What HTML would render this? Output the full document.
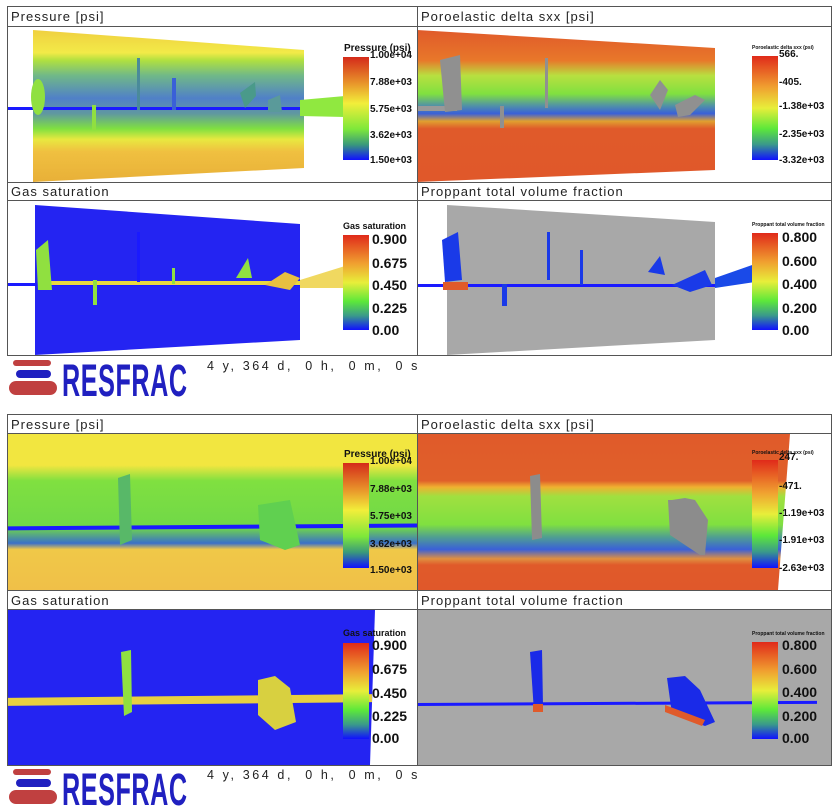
<!DOCTYPE html>
<html><head><meta charset="utf-8"><style>
html,body{margin:0;padding:0;background:#fff;width:834px;height:809px;overflow:hidden}
svg text{font-family:"Liberation Sans",sans-serif}
.t{font-size:13px;letter-spacing:1px;fill:#222}
.cb{font-size:10px;font-weight:bold;fill:#111}
.cbs{font-size:5px;font-weight:bold;fill:#111}
.cbl{font-size:14px;font-weight:bold;fill:#111}
.ts{font-size:12.5px;letter-spacing:2.6px;fill:#222;white-space:pre}
</style></head><body>
<svg width="834" height="809" viewBox="0 0 834 809" xmlns="http://www.w3.org/2000/svg">
<defs>
<linearGradient id="gp" x1="0" y1="0" x2="0" y2="1">
<stop offset="0" stop-color="#d42a1a"/><stop offset="0.25" stop-color="#e8922a"/><stop offset="0.45" stop-color="#f2ee3a"/><stop offset="0.7" stop-color="#7ee83a"/><stop offset="0.85" stop-color="#3a9a7a"/><stop offset="1" stop-color="#1010ff"/></linearGradient>
<linearGradient id="gs" x1="0" y1="0" x2="0" y2="1">
<stop offset="0" stop-color="#e02a1a"/><stop offset="0.3" stop-color="#f0a030"/><stop offset="0.5" stop-color="#e8ee3a"/><stop offset="0.7" stop-color="#5ce83a"/><stop offset="0.85" stop-color="#3a9a8a"/><stop offset="1" stop-color="#1010ff"/></linearGradient>
<linearGradient id="pa" x1="0" y1="0" x2="0" y2="1">
<stop offset="0" stop-color="#f0d040"/><stop offset="0.15" stop-color="#f2ea48"/><stop offset="0.2" stop-color="#b0e040"/><stop offset="0.3" stop-color="#70b888"/><stop offset="0.45" stop-color="#5080c8"/><stop offset="0.55" stop-color="#6098a0"/><stop offset="0.65" stop-color="#80e040"/><stop offset="0.72" stop-color="#e8e840"/><stop offset="0.8" stop-color="#f0c040"/><stop offset="1" stop-color="#e8b038"/></linearGradient>
<linearGradient id="po" x1="0" y1="0" x2="0" y2="1">
<stop offset="0" stop-color="#e05a2a"/><stop offset="0.2" stop-color="#e8782a"/><stop offset="0.3" stop-color="#b8e040"/><stop offset="0.42" stop-color="#80e040"/><stop offset="0.5" stop-color="#5090a8"/><stop offset="0.55" stop-color="#3a60d8"/><stop offset="0.6" stop-color="#e0a030"/><stop offset="0.65" stop-color="#e05a2a"/><stop offset="1" stop-color="#e0582a"/></linearGradient>
<linearGradient id="pa2" x1="0" y1="0" x2="0" y2="1">
<stop offset="0" stop-color="#f2e640"/><stop offset="0.2" stop-color="#f2e640"/><stop offset="0.3" stop-color="#80e040"/><stop offset="0.6" stop-color="#70d848"/><stop offset="0.7" stop-color="#3a70c8"/><stop offset="0.74" stop-color="#f0c848"/><stop offset="1" stop-color="#f0c048"/></linearGradient>
<linearGradient id="po2" x1="0" y1="0" x2="0" y2="1">
<stop offset="0" stop-color="#e05a2a"/><stop offset="0.3" stop-color="#e0602a"/><stop offset="0.34" stop-color="#f0b030"/><stop offset="0.4" stop-color="#a0e040"/><stop offset="0.58" stop-color="#80e040"/><stop offset="0.66" stop-color="#50a090"/><stop offset="0.74" stop-color="#3a60d8"/><stop offset="0.8" stop-color="#e09040"/><stop offset="0.84" stop-color="#e05a2a"/><stop offset="1" stop-color="#e0582a"/></linearGradient>
</defs>

<!-- ===== BLOCK 1 ===== -->
<g>
<polygon points="33,30 304,50 304,168 33,182" fill="url(#pa)"/>
<rect x="7" y="107" width="296" height="3" fill="#1a1aff"/>
<polygon points="300,100 345,96 345,117 300,116" fill="#90e840"/>
<ellipse cx="38" cy="97" rx="7" ry="18" fill="#90e040"/>
<rect x="137" y="58" width="3" height="52" fill="#4a8a9a"/>
<rect x="172" y="78" width="4" height="32" fill="#3a60d8"/>
<rect x="92" y="105" width="4" height="25" fill="#90e040"/>
<polygon points="240,93 255,82 256,96 245,108" fill="#4a9a8a"/>
<polygon points="268,100 280,95 282,112 268,112" fill="#5a9a9a"/>
<rect x="343" y="57" width="26" height="103" fill="url(#gp)"/>
<text class="cb" x="344" y="51">Pressure (psi)</text>
<text class="cb" x="370" y="58">1.00e+04</text>
<text class="cb" x="370" y="85">7.88e+03</text>
<text class="cb" x="370" y="112">5.75e+03</text>
<text class="cb" x="370" y="138">3.62e+03</text>
<text class="cb" x="370" y="163">1.50e+03</text>

<polygon points="417,30 715,48 715,170 417,182" fill="url(#po)"/>
<rect x="417" y="106" width="40" height="5" fill="#999"/>
<polygon points="440,60 460,55 462,110 445,112" fill="#909090"/>
<rect x="545" y="58" width="3" height="50" fill="#909090"/>
<rect x="500" y="106" width="4" height="22" fill="#909090"/>
<polygon points="650,95 660,80 668,90 660,110" fill="#909090"/>
<polygon points="675,105 695,95 705,100 690,115 678,117" fill="#909090"/>
<rect x="752" y="56" width="26" height="104" fill="url(#gs)"/>
<text class="cbs" x="752" y="49">Poroelastic delta sxx (psi)</text>
<text class="cb" x="779" y="57">566.</text>
<text class="cb" x="779" y="85">-405.</text>
<text class="cb" x="779" y="109">-1.38e+03</text>
<text class="cb" x="779" y="137">-2.35e+03</text>
<text class="cb" x="779" y="163">-3.32e+03</text>

<polygon points="35,205 300,224 300,340 35,355" fill="#2424f2"/>
<rect x="7" y="283" width="330" height="3" fill="#1a1aff"/>
<rect x="40" y="281" width="260" height="4" fill="#e8d840"/>
<polygon points="300,280 345,266 345,288 300,288" fill="#f0d860"/>
<polygon points="36,250 48,240 52,290 38,290" fill="#90e040"/>
<rect x="93" y="280" width="4" height="25" fill="#90e040"/>
<rect x="137" y="232" width="3" height="50" fill="#1a1aff"/>
<rect x="172" y="268" width="3" height="16" fill="#90e040"/>
<polygon points="236,278 248,258 252,278" fill="#90e040"/>
<polygon points="265,285 285,272 300,278 290,290" fill="#e8c040"/>
<rect x="343" y="235" width="26" height="95" fill="url(#gs)"/>
<text class="cb" x="343" y="229" style="font-size:9px">Gas saturation</text>
<text class="cbl" x="372" y="244">0.900</text>
<text class="cbl" x="372" y="268">0.675</text>
<text class="cbl" x="372" y="290">0.450</text>
<text class="cbl" x="372" y="313">0.225</text>
<text class="cbl" x="372" y="335">0.00</text>

<polygon points="447,205 715,222 715,340 447,355" fill="#a8a8a8"/>
<rect x="417" y="284" width="300" height="3" fill="#1a1aff"/>
<polygon points="715,278 755,264 755,282 715,288" fill="#1a4ae8"/>
<polygon points="442,240 458,232 462,280 445,282" fill="#1a3ae8"/>
<rect x="443" y="282" width="25" height="8" fill="#e05a2a"/>
<rect x="547" y="232" width="3" height="48" fill="#1a3ae8"/>
<rect x="502" y="284" width="5" height="22" fill="#1a3ae8"/>
<rect x="580" y="250" width="3" height="35" fill="#1a3ae8"/>
<polygon points="648,272 660,256 665,275" fill="#1a3ae8"/>
<polygon points="672,285 705,270 712,285 690,292" fill="#1a3ae8"/>
<rect x="752" y="233" width="26" height="97" fill="url(#gs)"/>
<text class="cbs" x="752" y="226">Proppant total volume fraction</text>
<text class="cbl" x="782" y="242">0.800</text>
<text class="cbl" x="782" y="266">0.600</text>
<text class="cbl" x="782" y="289">0.400</text>
<text class="cbl" x="782" y="313">0.200</text>
<text class="cbl" x="782" y="335">0.00</text>

<g fill="none" stroke="#555" stroke-width="1">
<rect x="7.5" y="6.5" width="824" height="349"/>
<line x1="417.5" y1="6" x2="417.5" y2="356"/>
<line x1="7" y1="26.5" x2="832" y2="26.5"/>
<line x1="7" y1="182.5" x2="832" y2="182.5"/>
<line x1="7" y1="200.5" x2="832" y2="200.5"/>
</g>
<rect x="8" y="7" width="409" height="19" fill="#fff"/><rect x="418" y="7" width="413" height="19" fill="#fff"/>
<rect x="8" y="183" width="409" height="17" fill="#fff"/><rect x="418" y="183" width="413" height="17" fill="#fff"/>
<text class="t" x="11" y="21">Pressure [psi]</text>
<text class="t" x="421" y="21">Poroelastic delta sxx [psi]</text>
<text class="t" x="11" y="196">Gas saturation</text>
<text class="t" x="421" y="196">Proppant total volume fraction</text>
</g>

<!-- ===== BLOCK 2 ===== -->
<g>
<rect x="7" y="434" width="410" height="156" fill="url(#pa2)"/>
<rect x="7" y="525" width="410" height="4" fill="#1a1aff" transform="rotate(-0.4 200 527)"/>
<polygon points="118,478 130,474 132,540 120,545" fill="#58b868"/>
<polygon points="258,505 290,500 300,545 285,550 260,540" fill="#60d050"/>
<rect x="343" y="463" width="26" height="105" fill="url(#gp)"/>
<text class="cb" x="344" y="457">Pressure (psi)</text>
<text class="cb" x="370" y="464">1.00e+04</text>
<text class="cb" x="370" y="492">7.88e+03</text>
<text class="cb" x="370" y="519">5.75e+03</text>
<text class="cb" x="370" y="547">3.62e+03</text>
<text class="cb" x="370" y="573">1.50e+03</text>

<polygon points="417,434 790,434 778,590 417,590" fill="url(#po2)"/>
<polygon points="530,476 540,474 542,538 532,540" fill="#8c8c8c"/>
<polygon points="668,500 672,500 685,498 695,500 708,520 705,555 700,555 670,535" fill="#8c8c8c"/>
<rect x="752" y="460" width="26" height="108" fill="url(#gs)"/>
<text class="cbs" x="752" y="454">Poroelastic delta sxx (psi)</text>
<text class="cb" x="779" y="460">247.</text>
<text class="cb" x="779" y="489">-471.</text>
<text class="cb" x="779" y="516">-1.19e+03</text>
<text class="cb" x="779" y="543">-1.91e+03</text>
<text class="cb" x="779" y="571">-2.63e+03</text>

<polygon points="7,610 375,610 370,765 7,765" fill="#2424f2"/>
<rect x="7" y="696" width="365" height="8" fill="#e8d040" transform="rotate(-0.6 190 700)"/>
<polygon points="121,652 131,650 132,712 124,716" fill="#90e040"/>
<polygon points="258,680 275,676 290,688 296,722 275,730 258,715" fill="#d8d040"/>
<rect x="343" y="643" width="26" height="96" fill="url(#gs)"/>
<text class="cb" x="343" y="636" style="font-size:9px">Gas saturation</text>
<text class="cbl" x="372" y="650">0.900</text>
<text class="cbl" x="372" y="674">0.675</text>
<text class="cbl" x="372" y="698">0.450</text>
<text class="cbl" x="372" y="721">0.225</text>
<text class="cbl" x="372" y="743">0.00</text>

<rect x="418" y="610" width="414" height="155" fill="#a8a8a8"/>
<rect x="417" y="702" width="400" height="3" fill="#1a1aff" transform="rotate(-0.3 600 703)"/>
<polygon points="530,652 542,650 543,706 534,712" fill="#1a2ae8"/>
<rect x="533" y="704" width="10" height="8" fill="#e05a2a"/>
<polygon points="667,678 685,676 700,690 715,722 705,726 672,714" fill="#1a2ae8"/>
<polygon points="665,705 705,720 702,726 665,712" fill="#e05a2a"/>
<rect x="752" y="642" width="26" height="97" fill="url(#gs)"/>
<text class="cbs" x="752" y="635">Proppant total volume fraction</text>
<text class="cbl" x="782" y="650">0.800</text>
<text class="cbl" x="782" y="674">0.600</text>
<text class="cbl" x="782" y="697">0.400</text>
<text class="cbl" x="782" y="721">0.200</text>
<text class="cbl" x="782" y="743">0.00</text>

<g fill="none" stroke="#555" stroke-width="1">
<rect x="7.5" y="414.5" width="824" height="351"/>
<line x1="417.5" y1="414" x2="417.5" y2="766"/>
<line x1="7" y1="433.5" x2="832" y2="433.5"/>
<line x1="7" y1="590.5" x2="832" y2="590.5"/>
<line x1="7" y1="609.5" x2="832" y2="609.5"/>
</g>
<rect x="8" y="415" width="409" height="18" fill="#fff"/><rect x="418" y="415" width="413" height="18" fill="#fff"/>
<rect x="8" y="591" width="409" height="18" fill="#fff"/><rect x="418" y="591" width="413" height="18" fill="#fff"/>
<text class="t" x="11" y="429">Pressure [psi]</text>
<text class="t" x="421" y="429">Poroelastic delta sxx [psi]</text>
<text class="t" x="11" y="605">Gas saturation</text>
<text class="t" x="421" y="605">Proppant total volume fraction</text>
</g>

<!-- logos -->
<g id="logo">
<rect x="13" y="360" width="38" height="6" rx="3" fill="#c04040"/>
<rect x="16" y="370" width="35" height="8" rx="4" fill="#2020c0"/>
<rect x="9" y="381" width="48" height="14" rx="7" fill="#c04040"/>
<g transform="translate(62 396) scale(0.56 1)">
<text x="0" y="0" fill="#2020c0" style="font-size:45px;font-weight:bold;letter-spacing:1px">RESFRAC</text>
</g>
<text class="ts" x="207" y="370" xml:space="preserve">4 y, 364 d,  0 h,  0 m,  0 s</text>
</g>
<use href="#logo" transform="translate(0 409)"/>
</svg>
</body></html>
